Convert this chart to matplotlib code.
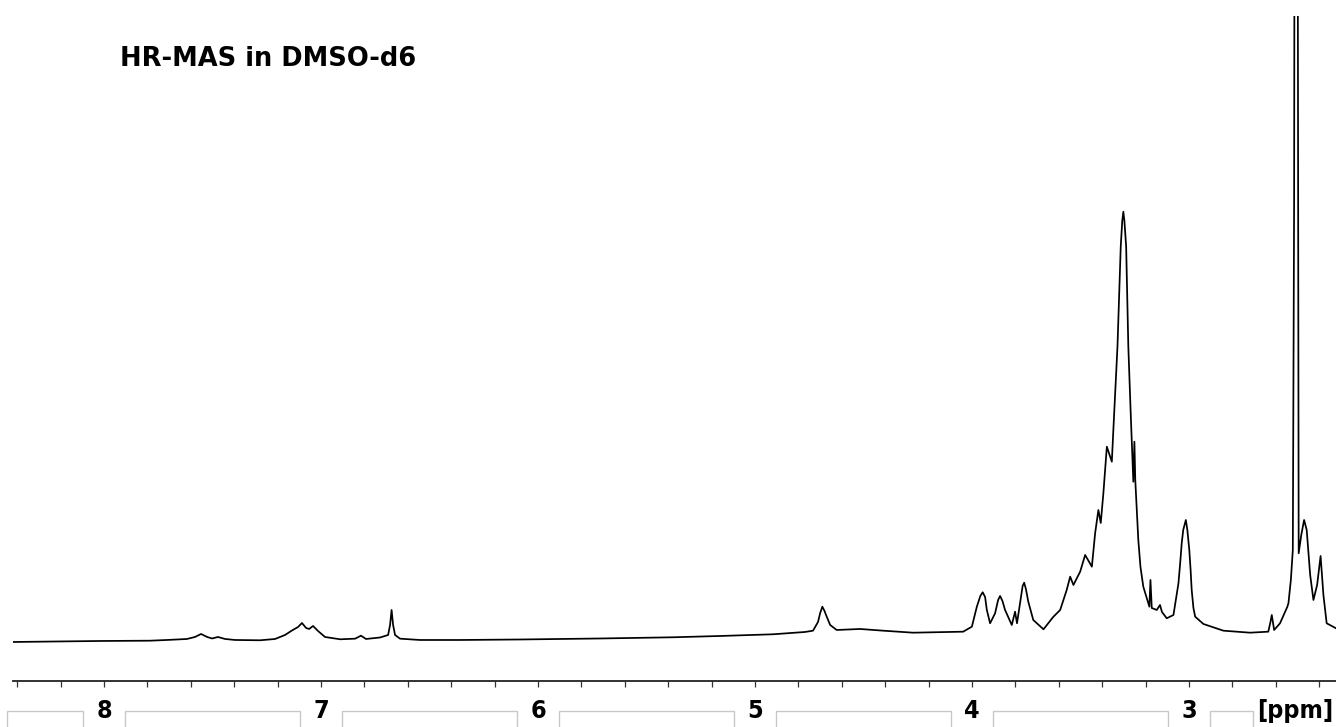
import matplotlib
matplotlib.use("Agg")
import matplotlib.pyplot as plt
import matplotlib.transforms as mtransforms
from matplotlib.patches import Rectangle

# 1H HR-MAS spectrum, chemical shift (ppm) and intensity (arb. units)
ppm = [8.421, 8.203, 8.018, 7.788, 7.710, 7.618, 7.581, 7.553, 7.525, 7.502,
       7.475, 7.442, 7.396, 7.281, 7.212, 7.166, 7.134, 7.106, 7.088, 7.069,
       7.055, 7.037, 7.014, 6.982, 6.912, 6.843, 6.816, 6.793, 6.728, 6.691,
       6.682, 6.675, 6.668, 6.659, 6.636, 6.544, 6.359, 6.083, 5.714, 5.378,
       5.161, 4.917, 4.770, 4.733, 4.710, 4.700, 4.690, 4.680, 4.673, 4.654,
       4.624, 4.516, 4.410, 4.272, 4.041, 4.001, 3.978, 3.962, 3.951, 3.940,
       3.932, 3.917, 3.894, 3.880, 3.871, 3.860, 3.848, 3.817, 3.802, 3.793,
       3.779, 3.767, 3.760, 3.752, 3.741, 3.718, 3.671, 3.625, 3.594, 3.564,
       3.548, 3.533, 3.502, 3.479, 3.448, 3.433, 3.418, 3.407, 3.395, 3.379,
       3.356, 3.349, 3.330, 3.315, 3.308, 3.303, 3.298, 3.290, 3.280, 3.269,
       3.257, 3.252, 3.248, 3.234, 3.224, 3.211, 3.183, 3.178, 3.172, 3.149,
       3.134, 3.125, 3.103, 3.072, 3.049, 3.041, 3.034, 3.027, 3.015, 3.008,
       2.999, 2.993, 2.988, 2.980, 2.972, 2.934, 2.842, 2.719, 2.635, 2.625,
       2.619, 2.608, 2.581, 2.547, 2.542, 2.531, 2.522, 2.516, 2.507, 2.497,
       2.495, 2.483, 2.470, 2.458, 2.442, 2.427, 2.410, 2.394, 2.381, 2.366,
       2.323]
intensity = [-1, -0.5, 0, 0.3, 1, 2, 4, 7, 4, 2.5,
             4, 2, 1, 0.7, 2, 6, 10.5, 14, 18, 13,
             12, 15, 10, 4, 1.7, 2.3, 5.3, 2, 3.5, 6,
             16, 31, 16, 6, 2.3, 1, 1, 1.5, 2.5, 3.7,
             5, 6.7, 9, 10.3, 19, 28, 34.3, 30, 26, 16,
             11, 12, 10.3, 8.3, 9.3, 14.3, 34.3, 45, 48.7, 44,
             31, 17.7, 27.7, 41, 45, 40, 31, 16, 29.3, 17.7,
             37.7, 55, 58.3, 52, 39.3, 21, 11.7, 24.3, 31, 51,
             64.3, 56, 69.3, 86, 74.3, 107.7, 131, 118, 147.7, 194.3,
             179.3, 211, 294.3, 394.3, 420, 429.3, 420, 394.3, 294.3, 227.7,
             159.3, 199.3, 161, 101, 74, 54.3, 34.3, 61, 33, 31,
             36, 29, 22.7, 26, 57.7, 78, 97.7, 111, 121, 111,
             91, 71, 51, 33, 24.3, 17, 10.3, 8.3, 9.3, 19,
             26, 11, 17.7, 34.3, 38, 61, 91, 441, 2000, 341,
             87.7, 106, 121, 111, 66, 41, 56, 85, 46, 17.7,
             12.7]

major_ticks = [8, 7, 6, 5, 4, 3]
tick_labels = ["8", "7", "6", "5", "4", "3"]
minor_ticks = [8.4, 8.2, 7.8, 7.6, 7.4, 7.2, 6.8, 6.6, 6.4, 6.2, 5.8, 5.6, 5.4,
               5.2, 4.8, 4.6, 4.4, 4.2, 3.8, 3.6, 3.4, 3.2, 2.8, 2.6, 2.4]

fig = plt.figure(figsize=(13.36, 7.27), dpi=100)
ax = fig.add_axes([0.0095, 0.0633, 0.9905, 0.9147])
ax.plot(ppm, intensity, color="black", lw=1.25)
ax.set_xlim(8.421, 2.323)
ax.set_ylim(-40, 625)

for s in ["left", "top", "right"]:
    ax.spines[s].set_visible(False)
ax.spines["bottom"].set_linewidth(1.3)
ax.spines["bottom"].set_color("#222222")
ax.set_yticks([])
ax.set_xticks(major_ticks)
ax.set_xticklabels([])
ax.set_xticks(minor_ticks, minor=True)
ax.tick_params(axis="x", which="both", direction="out", length=4, width=0.9,
               color="#333333")

trans = mtransforms.blended_transform_factory(ax.transData, ax.transAxes)
label_y = -0.0447
lab_font = dict(family="DejaVu Sans", stretch="condensed",
                weight="bold", fontsize=18)
for t, lab in zip(major_ticks, tick_labels):
    ax.text(t, label_y, lab, transform=trans, ha="center", va="center",
            clip_on=False, **lab_font)
ax.text(2.512, label_y, "[ppm]", transform=trans, ha="center", va="center",
        clip_on=False, **lab_font)

# open grey frames between the scale labels
gap = 0.097
edges = [8.449] + major_ticks + [2.607]
for a, b in zip(edges[:-1], edges[1:]):
    lo = a - gap if a in major_ticks else a
    hi = b + gap
    ax.add_patch(Rectangle((hi, -0.3), lo - hi, 0.3 + label_y, transform=trans,
                           fill=False, edgecolor="#c8c8c8", lw=1.0,
                           clip_on=False))

fig.text(120 / 1336, 1 - 59.5 / 727, "HR-MAS in DMSO-d6", ha="left",
         va="center", fontsize=18.5, weight="bold", family="DejaVu Sans")

fig.savefig("out.png", dpi=100)
